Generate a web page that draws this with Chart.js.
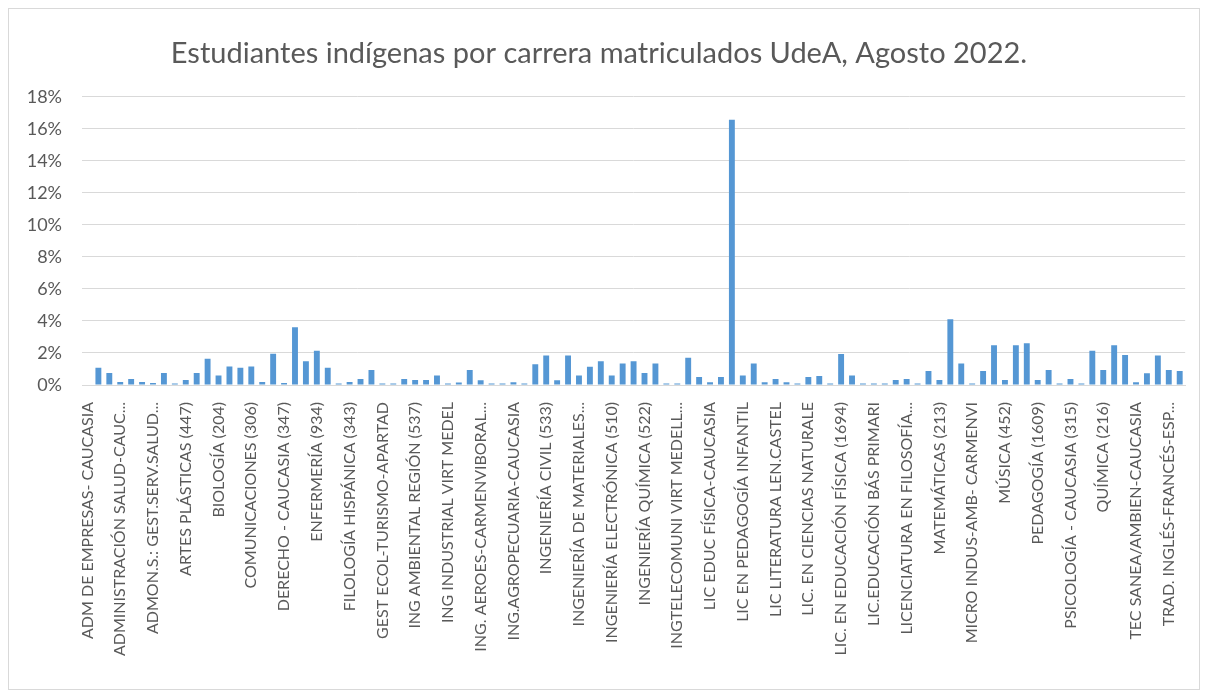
<!DOCTYPE html>
<html lang="es">
<head>
<meta charset="UTF-8">
<title>Estudiantes indígenas por carrera</title>
<script src="https://cdn.jsdelivr.net/npm/chart.js"></script>
<style>
  body { margin: 0; background: #fff; }
  #frame { position: absolute; left: 8px; top: 8px; width: 1190px; height: 680px; border: 1px solid #d9d9d9; }
  #wrap { position: absolute; left: 0; top: 0; width: 1208px; height: 698px; }
</style>
</head>
<body>
<div id="frame"></div>
<div id="wrap"><canvas id="chart" width="1208" height="698"></canvas></div>
<script>
// labels Excel shows (every 3rd program)
var shownLabels = [
  "ADM DE EMPRESAS- CAUCASIA", "ADMINISTRACIÓN SALUD-CAUC...", "ADMON.S.: GEST.SERV.SALUD...",
  "ARTES PLÁSTICAS (447)", "BIOLOGÍA (204)", "COMUNICACIONES (306)", "DERECHO - CAUCASIA (347)",
  "ENFERMERÍA (934)", "FILOLOGÍA HISPÁNICA (343)", "GEST ECOL-TURISMO-APARTAD",
  "ING AMBIENTAL REGIÓN (537)", "ING INDUSTRIAL VIRT MEDEL", "ING. AEROES-CARMENVIBORAL...",
  "ING.AGROPECUARIA-CAUCASIA", "INGENIERÍA CIVIL (533)", "INGENIERÍA DE MATERIALES...",
  "INGENIERÍA ELECTRÓNICA (510)", "INGENIERÍA QUÍMICA (522)", "INGTELECOMUNI VIRT MEDELL...",
  "LIC EDUC FÍSICA-CAUCASIA", "LIC EN PEDAGOGÍA INFANTIL", "LIC LITERATURA LEN.CASTEL",
  "LIC. EN CIENCIAS NATURALE", "LIC. EN EDUCACIÓN FÍSICA (1694)", "LIC.EDUCACIÓN BÁS PRIMARI",
  "LICENCIATURA EN FILOSOFÍA...", "MATEMÁTICAS (213)", "MICRO INDUS-AMB- CARMENVI",
  "MÚSICA (452)", "PEDAGOGÍA (1609)", "PSICOLOGÍA - CAUCASIA (315)", "QUÍMICA (216)",
  "TEC SANEA/AMBIEN-CAUCASIA", "TRAD. INGLÉS-FRANCÉS-ESP..."
];

// percentage of indigenous students per program
var percentages = [
  0, 1.08, 0.75, 0.19, 0.37, 0.19, 0.12, 0.75, 0.1, 0.31,
  0.75, 1.64, 0.6, 1.16, 1.08, 1.16, 0.19, 1.95, 0.12, 3.61,
  1.49, 2.14, 1.08, 0.1, 0.19, 0.37, 0.93, 0.1, 0.1, 0.37,
  0.31, 0.31, 0.6, 0.1, 0.15, 0.93, 0.29, 0.1, 0.1, 0.17,
  0.1, 1.29, 1.85, 0.29, 1.85, 0.6, 1.14, 1.49, 0.6, 1.35,
  1.49, 0.75, 1.35, 0.1, 0.1, 1.7, 0.5, 0.17, 0.5, 16.56,
  0.6, 1.35, 0.17, 0.37, 0.17, 0.1, 0.5, 0.56, 0.1, 1.93,
  0.6, 0.1, 0.1, 0.1, 0.31, 0.37, 0.1, 0.87, 0.31, 4.1,
  1.35, 0.1, 0.87, 2.49, 0.31, 2.49, 2.61, 0.31, 0.93, 0.1,
  0.37, 0.1, 2.14, 0.93, 2.49, 1.87, 0.17, 0.73, 1.85, 0.93,
  0.87
];

var yTicks = [0, 2, 4, 6, 8, 10, 12, 14, 16, 18];

// one slot per program, name only where Excel printed it
var categories = [];
for (var i = 0; i < percentages.length; i++) {
  categories.push(i % 3 === 0 ? shownLabels[i / 3] : "");
}

var textColor = "#595959";
var gridColor = "#d9d9d9";

var ctx = document.getElementById("chart").getContext("2d");
var chart = new Chart(ctx, {
  type: "bar",
  data: {
    labels: categories,
    datasets: [{
      data: percentages,
      backgroundColor: "#5597d4",
      borderWidth: 0,
      categoryPercentage: 1,
      barPercentage: 0.54
    }]
  },
  options: {
    responsive: false,
    animation: false,
    layout: { padding: { left: 10, right: 20, top: 0, bottom: 10 } },
    plugins: {
      legend: { display: false },
      tooltip: { enabled: false },
      title: {
        display: true,
        text: "Estudiantes indígenas por carrera matriculados UdeA, Agosto 2022.",
        color: textColor,
        font: { family: "Lato", size: 29, weight: "normal" },
        padding: { top: 36, bottom: 26 }
      }
    },
    scales: {
      x: {
        grid: { display: false },
        border: { display: true, color: gridColor },
        ticks: {
          autoSkip: false,
          minRotation: 90,
          maxRotation: 90,
          padding: 9,
          color: textColor,
          font: { family: "Lato", size: 16 }
        },
        afterFit: function (scale) { scale.height = 303; }
      },
      y: {
        min: 0,
        max: 18,
        afterBuildTicks: function (scale) {
          scale.ticks = yTicks.map(function (v) { return { value: v }; });
        },
        grid: { color: gridColor, drawTicks: false },
        border: { display: false },
        ticks: {
          padding: 20,
          color: textColor,
          font: { family: "Lato", size: 18 },
          callback: function (v) { return v + "%"; }
        },
        afterFit: function (scale) { scale.width = 72; }
      }
    }
  }
});
</script>
</body>
</html>
